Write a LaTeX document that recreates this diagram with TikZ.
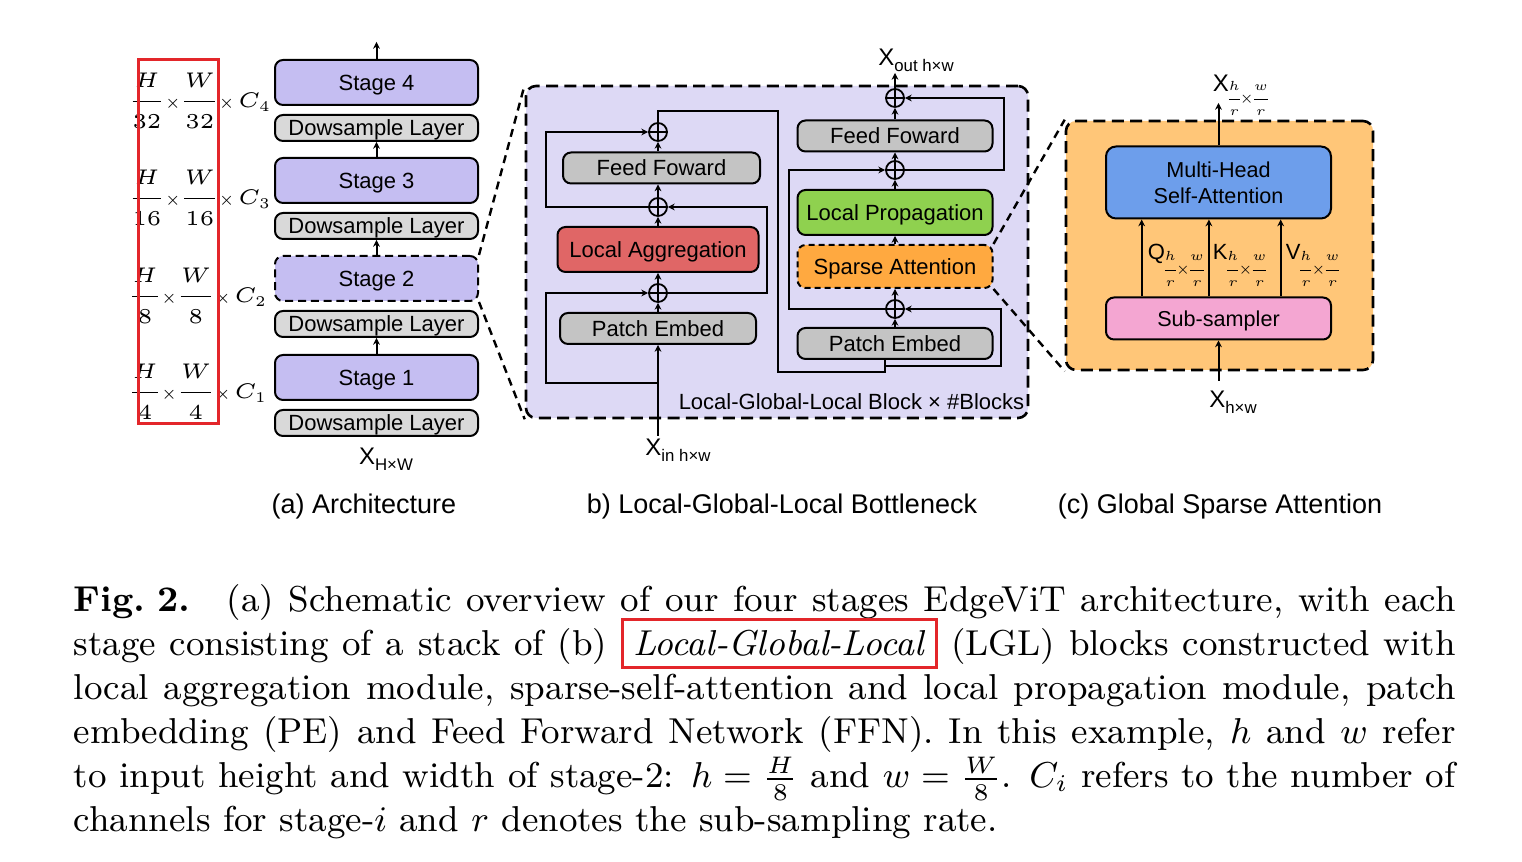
\RequirePackage{fix-cm}
\documentclass[tikz,border=0pt]{standalone}
\usepackage{fontspec}
\usepackage{amsmath}
\usetikzlibrary{arrows.meta,positioning}

\newfontfamily\arial{Liberation Sans}

\definecolor{stagepurple}{HTML}{C5BEF2}
\definecolor{blockbg}{HTML}{DDD9F5}
\definecolor{layergray}{HTML}{D9D9D9}
\definecolor{opgray}{HTML}{C4C4C4}
\definecolor{aggred}{HTML}{E06666}
\definecolor{propgreen}{HTML}{8FD14F}
\definecolor{attnorange}{HTML}{FFA940}
\definecolor{sparsebg}{HTML}{FFC678}
\definecolor{mhsablue}{HTML}{6D9EEB}
\definecolor{samplerpink}{HTML}{F4A6D2}
\definecolor{markred}{HTML}{E3262A}

% X with a lowered sans subscript
\newcommand{\tensorlab}[1]{{\fontsize{6}{7}\selectfont X}\raisebox{-1.5pt}{\fontsize{4.2}{5}\selectfont #1}}
% lowered h/r x w/r subscript
\newcommand{\ratiosub}[1]{\raisebox{-#1}{\fontsize{3.3}{3.6}\selectfont\nulldelimiterspace=0pt$\dfrac{h}{r}{\times}\dfrac{w}{r}$}}
\newcommand{\dimtimes}{\mkern2mu{\scriptstyle\times}\mkern2mu}
% feature map size next to a stage
\newcommand{\mapsize}[2]{$\nulldelimiterspace=0pt\dfrac{H}{#1}\dimtimes\dfrac{W}{#1}\dimtimes C_{#2}$}

\begin{document}
\begin{tikzpicture}[x=0.25pt,y=-0.25pt,>={Stealth[length=1.7pt,width=1.7pt]},
    box/.style={draw,line width=0.5pt,rounded corners=2pt,inner sep=0pt,
      text height=4pt,text depth=0pt,font=\arial\fontsize{5.5}{6.6}\selectfont},
    stage node/.style={box,fill=stagepurple,minimum width=50.75pt,minimum height=11.25pt},
    down node/.style={box,fill=layergray,minimum width=50.75pt,minimum height=6.5pt},
    op node/.style={box,fill=opgray,minimum width=49pt,minimum height=7.75pt},
    plus node/.style={circle,draw,line width=0.45pt,minimum size=4.5pt,inner sep=0pt,
      path picture={\draw[line width=0.45pt]
        (path picture bounding box.north) -- (path picture bounding box.south)
        (path picture bounding box.west) -- (path picture bounding box.east);}},
    flow/.style={->,line width=0.5pt},
    zoom line/.style={line width=0.6pt,dash pattern=on 2pt off 1.4pt},
    panel box/.style={draw,line width=0.65pt,dash pattern=on 3pt off 1.6pt,rounded corners=2.5pt},
    text label/.style={inner sep=0pt,font=\arial\fontsize{5.5}{6.6}\selectfont},
    dims/.style={inner sep=0pt,font=\fontsize{5.3}{6.2}\selectfont},
    sub title/.style={inner sep=0pt,font=\arial\fontsize{6.75}{8}\selectfont}]

  \useasboundingbox (0,0) rectangle (1522,862);

  % (a) architecture
  \node[stage node] (s4) at (376.5,82.5) {Stage 4};
  \node[down node,below=2pt of s4] (d4) {Dowsample Layer};
  \node[stage node] (s3) at (376.5,180.5) {Stage 3};
  \node[down node,below=2pt of s3] (d3) {Dowsample Layer};
  \node[stage node,dash pattern=on 2pt off 1.2pt] (s2) at (376.5,278.5) {Stage 2};
  \node[down node,below=2pt of s2] (d2) {Dowsample Layer};
  \node[stage node] (s1) at (376.5,377.5) {Stage 1};
  \node[down node,below=2pt of s1] (d1) {Dowsample Layer};
  \node[text label] (xa) at (386,459) {\tensorlab{H×W}};
  \coordinate (outa) at (376.5,42);

  \draw[flow] (s4.north) -- (outa);
  \draw[flow] (s3.north) -- (d4.south);
  \draw[flow] (s2.north) -- (d3.south);
  \draw[flow] (s1.north) -- (d2.south);

  \node[dims] (c4) at (202,101) {\mapsize{32}{4}};
  \node[dims] (c3) at (202,198) {\mapsize{16}{3}};
  \node[dims] (c2) at (200,296) {\mapsize{8}{2}};
  \node[dims] (c1) at (200,392) {\mapsize{4}{1}};
  \draw[markred,line width=0.75pt] (138,60) rectangle (218,424);

  % (b) local-global-local block
  \node[panel box,fill=blockbg,minimum width=125.5pt,minimum height=83pt] (lgl) at (777,252) {};
  \coordinate (lrail) at (546,0);
  \coordinate (mrail) at (767,0);
  \coordinate (xtop) at (778,111);
  \coordinate (joint) at (885,372);
  \coordinate (br4) at (885,366);
  \coordinate (lrailb) at (789,0);
  \coordinate (rrail) at (1001,0);
  \coordinate (rrailb) at (1004,0);

  \node[op node] (pe1) at (658,328.5) {Patch Embed};
  \node[plus node] (p1) at (658,293) {};
  \node[op node,fill=aggred,minimum width=50.25pt,minimum height=11.25pt] (la) at (658,249.5) {Local Aggregation};
  \node[plus node] (p2) at (658,207) {};
  \node[op node,minimum width=49.25pt] (ff1) at (661.5,168) {Feed Foward};
  \node[plus node] (p3) at (658,132) {};
  \coordinate (br1) at (658,383);
  \coordinate (inb) at (658,436);
  \node[text label] (xb_in) at (678,450) {\tensorlab{in h×w}};

  \draw[flow] (inb) -- (pe1.south);
  \draw[flow] (pe1.north) -- (p1.south);
  \draw[flow] (p1.north) -- (la.south);
  \draw[flow] (la.north) -- (p2.south);
  \draw[flow] (p2.north) -- (p2.north |- ff1.south);
  \draw[flow] (p3.south |- ff1.north) -- (p3.south);
  \draw[flow] (br1) -| (lrail |- p1.west) -- (p1.west);
  \draw[flow] (p1.east) -| (mrail |- p2.east) -- (p2.east);
  \draw[flow] (p2.west) -| (lrail |- p3.west) -- (p3.west);

  \node[op node,minimum width=48.75pt] (pe2) at (895,343.5) {Patch Embed};
  \node[plus node] (p4) at (895,309) {};
  \node[op node,fill=attnorange,minimum width=48.75pt,minimum height=10.75pt,
    dash pattern=on 1.5pt off 1pt] (sa) at (895,266.5) {Sparse Attention};
  \node[op node,fill=propgreen,minimum width=48.75pt,minimum height=11.25pt] (lp) at (895,212.5) {Local Propagation};
  \node[plus node] (p5) at (895,170) {};
  \node[op node,minimum width=48.75pt] (ff2) at (895,136) {Feed Foward};
  \node[plus node] (p6) at (895,98) {};
  \coordinate (outb) at (895,73);
  \node[text label] (xb_out) at (916,60) {\tensorlab{out h×w}};

  \draw[line width=0.5pt] (p3.north) |- (xtop) |- (joint) -- ([xshift=-2.5pt]pe2.south);
  \draw[flow] (pe2.north) -- (p4.south);
  \draw[flow] (p4.north) -- (sa.south);
  \draw[flow] (sa.north) -- (lp.south);
  \draw[flow] (lp.north) -- (p5.south);
  \draw[flow] (p5.north) -- (ff2.south);
  \draw[flow] (ff2.north) -- (p6.south);
  \draw[flow] (p6.north) -- (outb);
  \draw[flow] (br4) -| (rrail |- p4.east) -- (p4.east);
  \draw[flow] (p4.west) -| (lrailb |- p5.west) -- (p5.west);
  \draw[flow] (p5.east) -| (rrailb |- p6.east) -- (p6.east);

  \node[text label,anchor=east] (lglname) at (1025,402) {Local-Global-Local Block × \#Blocks};

  \draw[zoom line] (s2.north east) -- (lgl.north west);
  \draw[zoom line] (s2.south east) -- (lgl.south west);

  % (c) global sparse attention
  \node[panel box,fill=sparsebg,minimum width=76.75pt,minimum height=62.25pt] (gsa) at (1219.5,245.5) {};
  \node[box,fill=mhsablue,minimum width=56.25pt,minimum height=18pt,align=center,
    text height=10.7pt,text depth=0pt,rounded corners=2.5pt,
    font=\arial\fontsize{5.4}{6.7}\selectfont] (mhsa) at (1218.5,182.5) {Multi-Head\\Self-Attention};
  \node[box,fill=samplerpink,minimum width=56.25pt,minimum height=10.5pt,
    font=\arial\fontsize{5.4}{6.6}\selectfont] (sub) at (1218.5,318.5) {Sub-sampler};
  \coordinate (inc) at (1218.5,381);
  \coordinate (outc) at (1218.5,103);

  \draw[flow] (inc) -- (sub.south);
  \draw[flow] (mhsa.north) -- (outc);
  \draw[flow] ([xshift=-19.2pt]sub.north) -- ([xshift=-19.2pt]mhsa.south);
  \draw[flow] ([xshift=-2.4pt]sub.north) -- ([xshift=-2.4pt]mhsa.south);
  \draw[flow] ([xshift=15.55pt]sub.north) -- ([xshift=15.55pt]mhsa.south);

  \node[text label,anchor=base west] (qlab) at (1147,260) {Q\ratiosub{3.3pt}};
  \node[text label,anchor=base west] (klab) at (1212,260) {K\ratiosub{3.3pt}};
  \node[text label,anchor=base west] (vlab) at (1285,260) {V\ratiosub{3.3pt}};
  \node[text label] (xc_in) at (1233,402) {\tensorlab{h×w}};
  \node[text label,anchor=base west,font=\arial\fontsize{6}{7}\selectfont] (xc_out) at (1212,92) {X\ratiosub{2.6pt}};

  \draw[zoom line] (sa.north east) -- (gsa.north west);
  \draw[zoom line] (sa.south east) -- (gsa.south west);

  % panel titles
  \node[sub title] (ta) at (364,507) {(a) Architecture};
  \node[sub title] (tb) at (782,507) {b) Local-Global-Local Bottleneck};
  \node[sub title] (tc) at (1220,507) {(c) Global Sparse Attention};

  % caption
  \node[anchor=base west,inner sep=0pt] (caption) at (73,612) {\parbox[t]{345.5pt}{\fontsize{9}{11}\selectfont
    \textbf{Fig.\hspace{3pt}2.}\hskip 1em minus 0.4em (a) Schematic overview of our four stages EdgeViT architecture, with each\linebreak
    stage consisting of a stack of (b) {\fboxsep=2.3pt\fboxrule=0.75pt\smash{\textcolor{markred}{\fbox{\textcolor{black}{\textit{Local-Global-Local}}}}}} (LGL) blocks constructed with\linebreak
    local aggregation module, sparse-self-attention and local propagation module, patch\linebreak
    embedding (PE) and Feed Forward Network (FFN). In this example, $h$ and $w$ refer\linebreak
    to input height and width of stage-2: $h=\frac{H}{8}$ and $w=\frac{W}{8}$. $C_i$ refers to the number of\linebreak
    channels for stage-$i$ and $r$ denotes the sub-sampling rate.}};
\end{tikzpicture}
\end{document}
